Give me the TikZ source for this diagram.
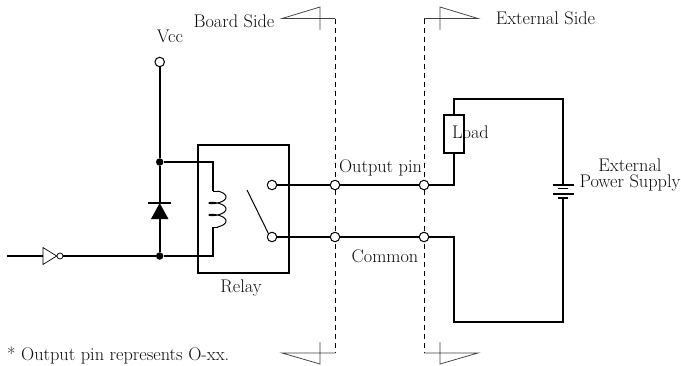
\documentclass[tikz,border=0pt]{standalone}
\begin{document}
\begin{tikzpicture}[x=1pt,y=-1pt,
  wire/.style={line width=1.6pt,line join=miter},
  hair/.style={line width=0.75pt,draw=black!75},
  dash line/.style={line width=0.6pt,dash pattern=on 5pt off 4pt},
  term/.style={circle,draw,fill=white,line width=1pt,inner sep=0pt,minimum size=9.5pt},
  dot/.style={circle,fill=black,inner sep=0pt,minimum size=7.5pt},
  lbl/.style={inner sep=0pt,anchor=base,font=\fontsize{18.3}{16}\selectfont,align=center,text=black!95},
  box/.style={draw,line width=1.6pt,inner sep=0pt,fill=none}]
\useasboundingbox (0,0) rectangle (681,365);

% coordinates
\coordinate (in) at (7,256);
\coordinate (invL) at (43,256);
\coordinate (ctop) at (213,162);
\coordinate (cbot) at (213,256);
\coordinate (c1) at (213,191);
\coordinate (c2) at (213,227);
\coordinate (dtop) at (159.7,203);
\coordinate (dbot) at (159.7,219);
\coordinate (arm) at (247,190);
\coordinate (lc1) at (454,185);
\coordinate (lc2) at (454,99);
\coordinate (rc1) at (563,99);
\coordinate (bat1) at (563,185);
\coordinate (bat2) at (563,198);
\coordinate (rc2) at (563,322);
\coordinate (lc3) at (454,322);
\coordinate (lc4) at (454,237);

% dashed section lines
\coordinate (dlt) at (335,18.5);
\coordinate (dlb) at (335,353);
\coordinate (drt) at (424,18.5);
\coordinate (drb) at (424,353);
\draw[dash line] (dlt) -- (dlb);
\draw[dash line] (drt) -- (drb);
\draw[hair] (dlt) -- (282,18.5) -- (320,7) -- (320,30);
\draw[hair] (drt) -- (478,18.5) -- (440,7) -- (440,30);
\draw[hair] (dlb) -- (282,353) -- (320,364) -- (320,342);
\draw[hair] (drb) -- (478,353) -- (440,364) -- (440,342);

% nodes
\node[term] (vcc) at (159.7,62) {};
\node[dot] (j1) at (159.7,162) {};
\node[dot] (j2) at (159.7,256) {};
\node[box,minimum width=91pt,minimum height=128pt] (relay) at (243.5,209) {};
\node[term] (k1) at (272,185) {};
\node[term] (k2) at (272,237) {};
\node[term] (p1) at (335,185) {};
\node[term] (p2) at (335,237) {};
\node[term] (e1) at (424,185) {};
\node[term] (e2) at (424,237) {};
\node[box,minimum width=20pt,minimum height=38pt] (load) at (454,134) {};
\node[circle,draw,line width=0.7pt,fill=white,inner sep=0pt,minimum size=6pt] (inv) at (60,256) {};

% wires
\draw[wire] (vcc) -- (j1) -- (dtop);
\draw[wire] (dbot) -- (j2);
\draw[wire] (j1) -- (ctop) -- (c1);
\draw[wire] (in) -- (invL);
\draw[wire] (inv) -- (j2) -- (cbot) -- (c2);
\draw[wire] (k1) -- (p1) -- (e1) -- (lc1) -- (load.south);
\draw[wire] (k2) -- (p2) -- (e2) -- (lc4) -- (lc3) -- (rc2) -- (bat2);
\draw[wire] (load.north) -- (lc2) -- (rc1) -- (bat1);

% coil
\draw[line width=1pt] (c1) -- (217.5,191);
\draw[line width=1pt] plot[smooth,domain=-90:810,samples=91,variable=\t]
  ({217.5+8.5*cos(\t)},{194+(\t+90)/30+3*sin(\t)});
\draw[line width=1pt] (217.5,227) -- (c2);

% switch arm
\draw[line width=1pt] (arm) -- (k2.north west);

% diode
\draw[wire] (148,203) -- (171,203);
\fill (dtop) -- (168.5,219) -- (151,219) -- cycle;

% inverter
\draw[line width=0.7pt] (43,247.5) -- (43,264.5) -- (inv.west) -- cycle;

% battery
\draw[wire] (552.5,185) -- (573.5,185);
\draw[wire] (558,188.5) -- (568,188.5);
\draw[wire] (552.5,194) -- (573.5,194);
\draw[wire] (558,198) -- (568,198);

% labels
\node[lbl] (tvcc) at (170,42.5) {Vcc};
\node[lbl] (tboard) at (234,27) {Board Side};
\node[lbl] (text) at (545.5,24) {External Side};
\node[lbl] (tout) at (380.5,172) {Output pin};
\node[lbl] (tcom) at (385,262) {Common};
\node[lbl] (trel) at (241,292) {Relay};
\node[lbl] (tload) at (470.5,138) {Load};
\node[lbl,anchor=center] (tps) at (630,175.3) {External\\Power Supply};
\node[lbl,anchor=base west] (tnote) at (7,360) {* Output pin represents O-xx.};
\end{tikzpicture}
\end{document}
